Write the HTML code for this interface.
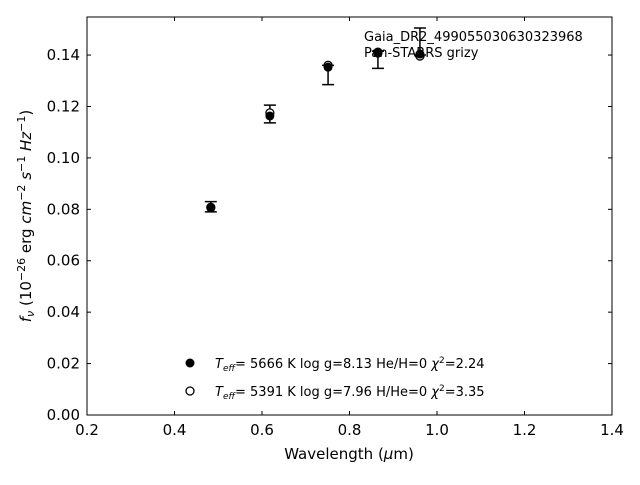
<!DOCTYPE html>
<html><head><meta charset="utf-8"><style>
body{margin:0;background:#fff;font-family:"Liberation Sans","DejaVu Sans",sans-serif}
svg text{font-family:"DejaVu Sans","Liberation Sans",sans-serif}
</style></head><body>
<svg id="c" width="640" height="480" xmlns="http://www.w3.org/2000/svg">
<rect x="87" y="17" width="525" height="398" fill="none" stroke="#000" stroke-width="1"/>
<g id="ticks"></g>
<g id="marks"></g>
<text x="364" y="41" font-size="13">Gaia_DR2_499055030630323968</text>
<text x="364" y="57" font-size="13">Pan-STARRS grizy</text>
<text x="349" y="459" font-size="15" text-anchor="middle">Wavelength (<tspan font-style="italic">μ</tspan>m)</text>
<text transform="translate(31,216) rotate(-90)" font-size="15" text-anchor="middle"><tspan font-style="italic">f<tspan font-size="11" dy="3">ν</tspan></tspan><tspan dy="-3"> (10</tspan><tspan font-size="11" dy="-6">−26</tspan><tspan dy="6"> erg </tspan><tspan font-style="italic">cm</tspan><tspan font-size="11" dy="-6">−2</tspan><tspan dy="6" font-style="italic"> s</tspan><tspan font-size="11" dy="-6">−1</tspan><tspan dy="6" font-style="italic"> Hz</tspan><tspan font-size="11" dy="-6">−1</tspan><tspan dy="6">)</tspan></text>
<g>
<circle cx="190" cy="363" r="4.5" fill="#000"/>
<text x="215" y="368" font-size="13"><tspan font-style="italic">T</tspan><tspan font-size="9" dy="3" font-style="italic">eff</tspan><tspan dy="-3">=  5666 K  log g=8.13  He/H=0  </tspan><tspan font-style="italic">χ</tspan><tspan font-size="9" dy="-5">2</tspan><tspan dy="5">=2.24</tspan></text>
<circle cx="190" cy="391" r="4" fill="#fff" stroke="#000" stroke-width="1.3"/>
<text x="215" y="396" font-size="13"><tspan font-style="italic">T</tspan><tspan font-size="9" dy="3" font-style="italic">eff</tspan><tspan dy="-3">=  5391 K  log g=7.96  H/He=0  </tspan><tspan font-style="italic">χ</tspan><tspan font-size="9" dy="-5">2</tspan><tspan dy="5">=3.35</tspan></text>
</g>
</svg>
<script>
const wavelengths=[0.483,0.618,0.751,0.865,0.961];
const observed=[0.0805,0.1165,0.1350,0.1412,0.1420];
const errLow=[0.0790,0.1136,0.1285,0.1348,0.1400];
const errHigh=[0.0830,0.1205,0.1360,0.1415,0.1505];
const modelHe=[0.0805,0.1163,0.1353,0.1412,0.1404];
const modelH=[0.0808,0.1175,0.1360,0.1408,0.1396];
const xTicks=["0.2","0.4","0.6","0.8","1.0","1.2","1.4"];
const yTicks=["0.00","0.02","0.04","0.06","0.08","0.10","0.12","0.14"];
const NS="http://www.w3.org/2000/svg";
const X0=87,X1=612,Y0=415,Y1=17,XMIN=0.2,XMAX=1.4,YMIN=0,YMAX=0.1548;
const sx=v=>X0+(v-XMIN)/(XMAX-XMIN)*(X1-X0);
const sy=v=>Y0-(v-YMIN)/(YMAX-YMIN)*(Y0-Y1);
function mk(p,t,a){const e=document.createElementNS(NS,t);for(const k in a)e.setAttribute(k,a[k]);p.appendChild(e);return e;}
const tg=document.getElementById('ticks'),mg=document.getElementById('marks');
xTicks.forEach(t=>{const x=sx(+t);
const l=mk(tg,'line',{x1:x,x2:x,y1:Y0,y2:Y0-4,stroke:'#000'});


const l2=mk(tg,'line',{x1:x,x2:x,y1:Y1,y2:Y1+4,stroke:'#000'});


const tx=mk(tg,'text',{x:x,y:Y0+20,'font-size':15,'text-anchor':'middle'});tx.textContent=t;

});
yTicks.forEach(t=>{const y=sy(+t);
const l=mk(tg,'line',{x1:X0,x2:X0+4,y1:y,y2:y,stroke:'#000'});


const l2=mk(tg,'line',{x1:X1,x2:X1-4,y1:y,y2:y,stroke:'#000'});


const tx=mk(tg,'text',{x:X0-7,y:y+5,'font-size':15,'text-anchor':'end'});tx.textContent=t;

});
wavelengths.forEach((w,i)=>{const x=sx(w);
const e=mk(mg,'path',{d:`M${x},${sy(errLow[i])}V${sy(errHigh[i])}M${x-6},${sy(errLow[i])}h12M${x-6},${sy(errHigh[i])}h12`,stroke:'#000','stroke-width':1.5,fill:'none'});


const o=mk(mg,'circle',{cx:x,cy:sy(modelH[i]),r:4,fill:'#fff',stroke:'#000','stroke-width':1.3});


const f=mk(mg,'circle',{cx:x,cy:sy(modelHe[i]),r:4.5,fill:'#000'});


const ob=mk(mg,'circle',{cx:x,cy:sy(observed[i]),r:0.1,fill:'#000'});

});
</script>
</body></html>
